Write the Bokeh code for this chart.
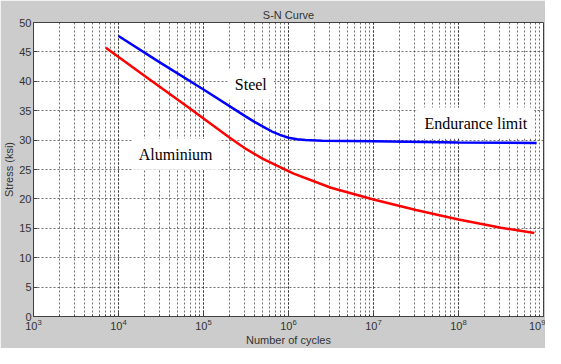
from bokeh.plotting import figure
from bokeh.models import Label, FixedTicker, LogTicker
from bokeh.embed import file_html
from bokeh.resources import INLINE

# Data
steel_cycles = [1.0e4, 3.16e4, 1.0e5, 3.16e5, 3.98e5, 5.01e5, 6.31e5, 7.94e5, 1.0e6, 1.26e6, 1.58e6, 2.5e6, 1.0e7, 1.0e8, 8.3e8]
steel_stress = [47.7, 43.1, 38.6, 34.0, 33.1, 32.3, 31.5, 30.9, 30.4, 30.15, 30.0, 29.9, 29.8, 29.6, 29.5]

alu_cycles = [7.1e3, 2.0e4, 6.31e4, 1.26e5, 2.0e5, 3.16e5, 5.0e5, 1.15e6, 3.16e6, 1.0e7, 3.16e7, 1.0e8, 3.16e8, 7.8e8]
alu_stress = [45.7, 41.0, 35.8, 32.6, 30.5, 28.5, 26.8, 24.3, 21.9, 19.9, 18.1, 16.5, 15.1, 14.2]

y_ticks = [0, 5, 10, 15, 20, 25, 30, 35, 40, 45, 50]

labels = ["Steel", "Aluminium", "Endurance limit"]
label_x = [3.6e5, 4.7e4, 1.6e8]
label_y = [39.5, 27.6, 32.9]

BG = "#cccccc"
AX = "#404040"

p = figure(width=545, height=348, x_axis_type="log",
           x_range=(1e3, 1e9), y_range=(0, 50),
           output_backend="svg", toolbar_location=None,
           title="S-N Curve",
           min_border_left=27, min_border_right=2,
           min_border_top=22, min_border_bottom=20)

p.background_fill_color = "white"
p.border_fill_color = BG
p.outline_line_color = AX
p.outline_line_width = 1

p.title.align = "center"
p.title.text_font = "Liberation Sans"
p.title.text_font_size = "11px"
p.title.text_font_style = "normal"
p.title.text_color = "#333333"
p.title.standoff = 4

p.xaxis.ticker = LogTicker(num_minor_ticks=10)
p.yaxis.ticker = FixedTicker(ticks=y_ticks)

for ax in (p.xaxis[0], p.yaxis[0]):
    ax.axis_line_color = AX
    ax.major_tick_line_color = AX
    ax.minor_tick_line_color = AX
    ax.major_tick_in = 4
    ax.major_tick_out = 0
    ax.minor_tick_in = 2
    ax.minor_tick_out = 0
    ax.major_label_text_font = "Liberation Sans"
    ax.major_label_text_font_size = "11px"
    ax.major_label_text_color = "#333333"
    ax.axis_label_text_font = "Liberation Sans"
    ax.axis_label_text_font_size = "11px"
    ax.axis_label_text_font_style = "normal"
    ax.axis_label_text_color = "#333333"
    ax.axis_label_standoff = 1
    ax.major_label_standoff = 2

p.yaxis.minor_tick_line_color = None
p.xaxis.axis_label = "Number of cycles"
p.yaxis.axis_label = "Stress (ksi)"

for g in (p.xgrid[0], p.ygrid[0]):
    g.grid_line_color = "#333333"
    g.grid_line_dash = "2 2"
    g.grid_line_alpha = 0.7
p.xgrid.minor_grid_line_color = "#333333"
p.xgrid.minor_grid_line_dash = "2 2"
p.xgrid.minor_grid_line_alpha = 0.7

p.line(steel_cycles, steel_stress, line_color="#0000ff", line_width=2.5)
p.line(alu_cycles, alu_stress, line_color="#ff0000", line_width=2.5)

for t, x, y in zip(labels, label_x, label_y):
    p.add_layout(Label(x=x, y=y, text=t, text_align="center", text_baseline="middle",
                       text_font="Liberation Serif", text_font_size="16px",
                       text_color="black", background_fill_color="white",
                       padding=7))

open("out.html", "w").write(file_html(p, INLINE))
